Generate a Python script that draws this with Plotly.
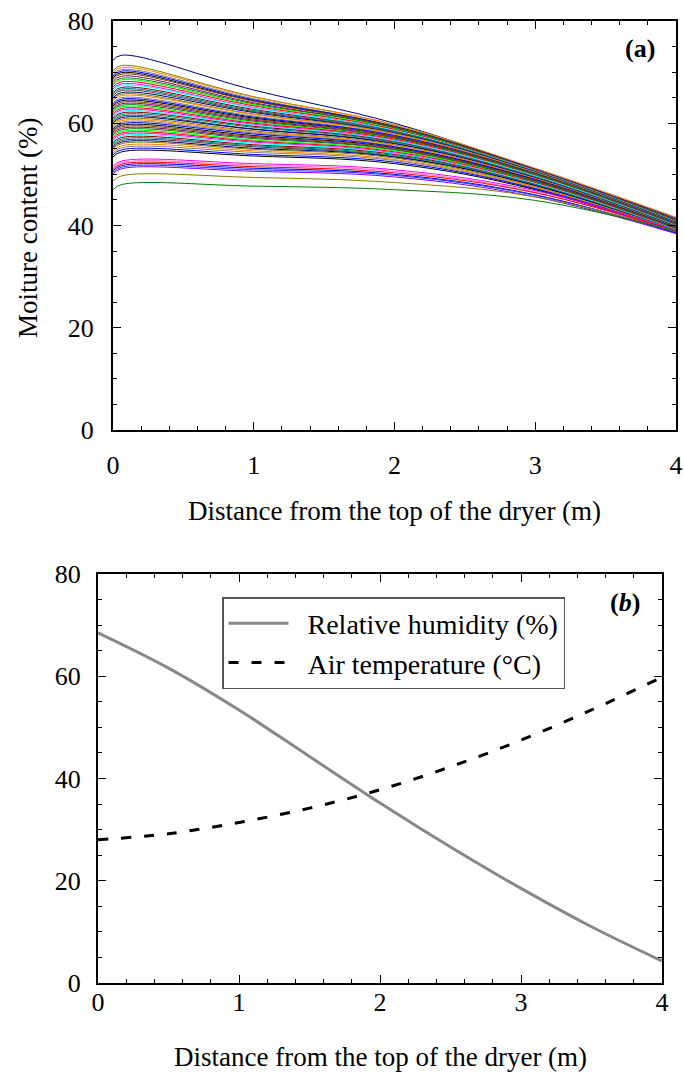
import plotly.graph_objects as go

# ---------------- data: panel (a) moisture content curves ----------------
dist_a = [0, 0.06, 1, 2, 3, 4]

mc_x0 = [72.3, 70.3, 69.9, 69.5, 69.2, 68.9, 68.6, 68.2, 67.8, 67.5, 67.1, 66.7, 66.4, 66.0, 65.7, 65.4,
         65.0, 64.7, 64.4, 64.0, 63.7, 63.4, 63.1, 62.8, 62.5, 62.2, 61.9, 61.6, 61.3, 61.0, 60.7, 60.4,
         60.1, 59.8, 59.5, 59.2, 58.9, 58.6, 58.3, 58.0, 57.7, 57.4, 57.1, 56.8, 56.5, 56.2, 55.9, 55.6,
         55.3, 55.0, 54.6, 54.2, 53.8, 53.4, 51.6, 51.3, 51.0, 50.7, 50.4, 50.1, 48.7, 47.0]
mc_peak = [73.3, 71.3, 70.9, 70.5, 70.2, 69.9, 69.6, 69.2, 68.8, 68.5, 68.1, 67.7, 67.4, 67.0, 66.7, 66.4,
           66.0, 65.7, 65.4, 65.0, 64.7, 64.4, 64.1, 63.8, 63.5, 63.2, 62.9, 62.6, 62.3, 62.0, 61.7, 61.4,
           61.1, 60.8, 60.5, 60.2, 59.9, 59.6, 59.3, 59.0, 58.7, 58.4, 58.1, 57.8, 57.5, 57.2, 56.9, 56.6,
           56.3, 56.0, 55.6, 55.2, 54.8, 54.4, 52.6, 52.3, 52.0, 51.7, 51.4, 51.1, 49.7, 48.0]
mc_x1 = [66.5, 65.2, 65.1, 64.8, 64.6, 64.4, 64.3, 64.0, 63.8, 63.6, 63.4, 63.1, 63.0, 62.7, 62.5, 62.3,
         62.1, 61.8, 61.7, 61.4, 61.2, 61.0, 60.8, 60.6, 60.4, 60.2, 60.0, 59.8, 59.6, 59.4, 59.2, 58.9,
         58.8, 58.5, 58.3, 58.1, 57.9, 57.6, 57.4, 57.2, 57.0, 56.7, 56.5, 56.3, 56.1, 55.8, 55.6, 55.4,
         55.1, 54.9, 54.6, 54.3, 53.9, 53.6, 52.1, 51.8, 51.5, 51.2, 50.9, 50.6, 49.4, 47.7]
mc_x2 = [60.0, 59.7, 59.7, 59.4, 59.4, 59.3, 59.3, 59.1, 59.1, 58.9, 58.8, 58.6, 58.6, 58.4, 58.4, 58.2,
         58.1, 58.0, 57.9, 57.7, 57.6, 57.4, 57.4, 57.2, 57.1, 56.9, 56.9, 56.7, 56.6, 56.4, 56.3, 56.1,
         56.0, 55.8, 55.7, 55.5, 55.4, 55.2, 55.1, 54.9, 54.8, 54.6, 54.4, 54.2, 54.1, 53.9, 53.7, 53.5,
         53.4, 53.2, 52.9, 52.7, 52.4, 52.1, 50.9, 50.6, 50.3, 50.0, 49.8, 49.5, 48.4, 47.0]
mc_x3 = [51.0, 51.0, 51.2, 50.9, 51.0, 50.8, 50.9, 50.7, 50.8, 50.7, 50.8, 50.6, 50.7, 50.5, 50.6, 50.4,
         50.5, 50.3, 50.4, 50.1, 50.2, 50.0, 50.1, 49.9, 50.0, 49.8, 49.8, 49.6, 49.7, 49.4, 49.5, 49.3,
         49.3, 49.1, 49.2, 48.9, 49.0, 48.8, 48.8, 48.6, 48.6, 48.4, 48.4, 48.2, 48.2, 48.0, 48.0, 47.8,
         47.8, 47.6, 47.5, 47.3, 47.2, 47.0, 46.8, 46.5, 46.4, 46.0, 45.9, 45.6, 45.6, 44.9]
mc_x4 = [41.5, 41.3, 41.6, 41.0, 41.2, 40.9, 41.1, 40.8, 41.0, 40.7, 40.9, 40.6, 40.8, 40.5, 40.7, 40.4,
         40.6, 40.3, 40.5, 40.2, 40.4, 40.1, 40.3, 40.0, 40.2, 39.9, 40.1, 39.8, 40.0, 39.7, 39.9, 39.6,
         39.8, 39.5, 39.7, 39.4, 39.6, 39.3, 39.5, 39.2, 39.4, 39.1, 39.3, 39.0, 39.2, 38.9, 39.1, 38.8,
         39.0, 38.8, 39.0, 38.7, 38.9, 38.6, 39.0, 38.7, 38.9, 38.5, 38.7, 38.4, 38.8, 38.9]

# ---------------- data: panel (b) air conditions ----------------
dist_b = [0, 0.5, 1, 1.5, 2, 2.5, 3, 3.5, 4]
rel_humidity = [68.5, 61.6, 53.4, 44.3, 35.2, 26.6, 18.5, 11.0, 4.3]
air_temperature = [28.0, 29.2, 31.4, 34.2, 37.8, 42.3, 47.5, 53.4, 59.8]

# ---------------- styling ----------------
palette = ["#000080", "#808000", "#ff8000", "#808080", "#0000ff", "#000000", "#804000", "#800080",
           "#008000", "#00ff00", "#ff0000", "#ff00ff", "#00ffff", "#800000", "#008080", "#404040"]
low_colors = ["#ff00ff", "#ff66cc", "#ff0000", "#0000ff", "#3333ff", "#8000ff", "#808000", "#008000"]

W, H = 684, 1079
FONT = "Liberation Serif"

fig = go.Figure()

n = len(mc_peak)
for i in range(n):
    ys = [mc_x0[i], mc_peak[i], mc_x1[i], mc_x2[i], mc_x3[i], mc_x4[i]]
    if i >= n - 8:
        col = low_colors[i - (n - 8)]
    else:
        col = palette[i % len(palette)]
    fig.add_trace(go.Scatter(x=dist_a, y=ys, mode="lines",
                             line=dict(color=col, width=1, shape="spline", smoothing=1.1),
                             showlegend=False, hoverinfo="skip", xaxis="x", yaxis="y"))

fig.add_trace(go.Scatter(x=dist_b, y=rel_humidity, mode="lines", name="\u00a0\u00a0Relative humidity (%)",
                         line=dict(color="#888888", width=3, shape="spline", smoothing=1.0),
                         xaxis="x2", yaxis="y2"))
fig.add_trace(go.Scatter(x=dist_b, y=air_temperature, mode="lines", name="\u00a0\u00a0Air temperature (\u00b0C)",
                         line=dict(color="#000000", width=3, dash="10px,13px", shape="spline"),
                         xaxis="x2", yaxis="y2"))


def px_x(p):
    return p / W


def px_y(p):
    return 1 - p / H


axis_common = dict(showline=True, linecolor="black", linewidth=2, mirror="ticks",
                   ticks="inside", ticklen=8, tickwidth=1.2, tickcolor="black",
                   showgrid=False, zeroline=False, automargin=False,
                   tickfont=dict(family=FONT, size=26, color="black"))

fig.update_layout(
    width=W, height=H,
    margin=dict(l=0, r=0, t=0, b=0, pad=0, autoexpand=False),
    paper_bgcolor="white", plot_bgcolor="white",
    font=dict(family=FONT, size=26, color="black"),
    xaxis=dict(domain=[px_x(113), px_x(676)], range=[0, 4], dtick=1, anchor="y",
               ticklabelstandoff=11,
               minor=dict(dtick=0.2, ticks="inside", ticklen=4, tickcolor="black"),
               **axis_common),
    yaxis=dict(domain=[px_y(430), px_y(21)], range=[0, 80], dtick=20, anchor="x",
               ticklabelstandoff=12,
               minor=dict(dtick=5, ticks="inside", ticklen=4, tickcolor="black"),
               **axis_common),
    xaxis2=dict(domain=[px_x(98), px_x(662)], range=[0, 4], dtick=1, anchor="y2",
                ticklabelstandoff=-5,
                minor=dict(dtick=0.2, ticks="inside", ticklen=4, tickcolor="black"),
                **axis_common),
    yaxis2=dict(domain=[px_y(983), px_y(574)], range=[0, 80], dtick=20, anchor="x2",
                ticklabelstandoff=10,
                minor=dict(dtick=5, ticks="inside", ticklen=4, tickcolor="black"),
                **axis_common),
    showlegend=True,
    legend=dict(x=px_x(222), y=px_y(597), xanchor="left", yanchor="top",
                bgcolor="white", bordercolor="#555555", borderwidth=1.5,
                font=dict(family=FONT, size=28, color="black"),
                itemwidth=60, entrywidth=349, tracegroupgap=0),
    annotations=[
        dict(text="Distance from the top of the dryer (m)", xref="paper", yref="paper",
             x=px_x(394.5), y=px_y(511), xanchor="center", yanchor="middle", showarrow=False,
             font=dict(family=FONT, size=27)),
        dict(text="Distance from the top of the dryer (m)", xref="paper", yref="paper",
             x=px_x(380), y=px_y(1057), xanchor="center", yanchor="middle", showarrow=False,
             font=dict(family=FONT, size=27)),
        dict(text="Moiture content (%)", xref="paper", yref="paper", textangle=-90,
             x=px_x(28), y=px_y(228), xanchor="center", yanchor="middle", showarrow=False,
             font=dict(family=FONT, size=27)),
        dict(text="<b>(a)</b>", xref="paper", yref="paper",
             x=px_x(640), y=px_y(48), xanchor="center", yanchor="middle", showarrow=False,
             font=dict(family=FONT, size=26)),
        dict(text="<b>(<i>b</i>)</b>", xref="paper", yref="paper",
             x=px_x(625), y=px_y(602), xanchor="center", yanchor="middle", showarrow=False,
             font=dict(family=FONT, size=26)),
    ],
)

fig.write_html("out.html")
